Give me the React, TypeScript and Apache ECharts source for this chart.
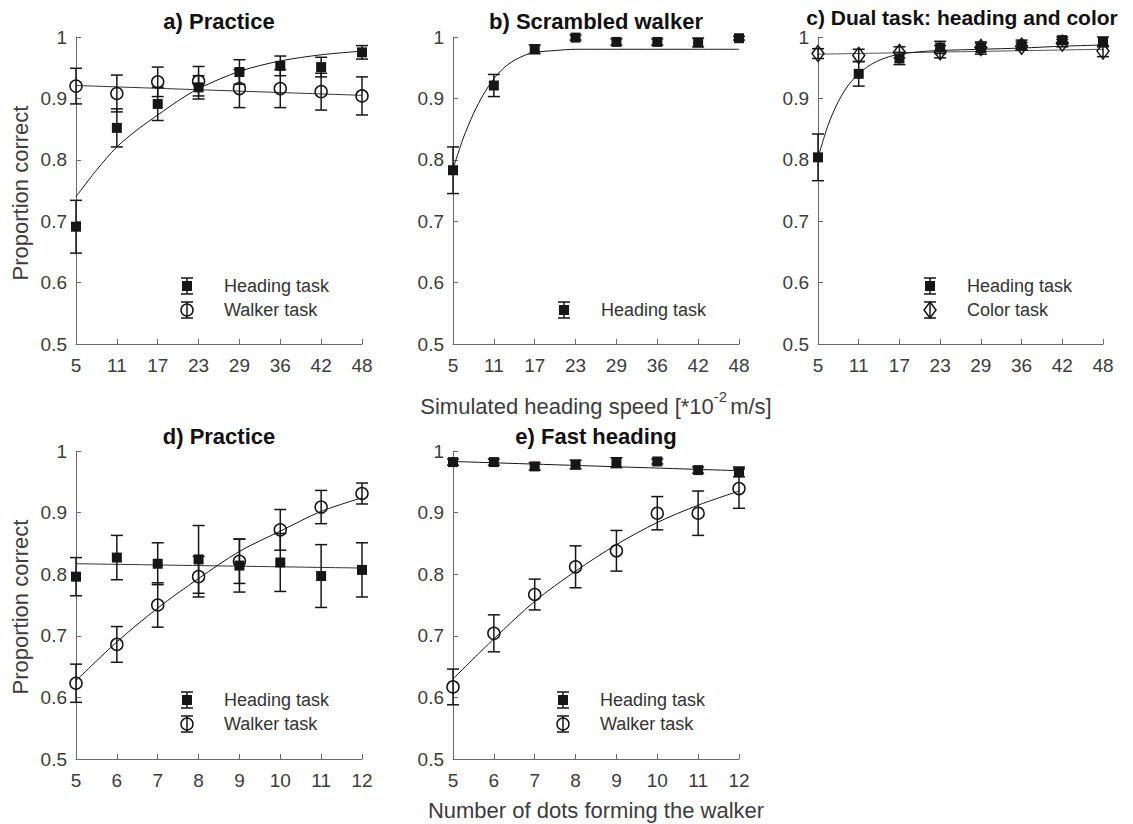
import React, { useEffect, useRef } from 'react';
import * as echarts from 'echarts';

// ---------- data ----------
const speedLabels = ['5', '11', '17', '23', '29', '36', '42', '48'];
const speedIdx = [0, 1, 2, 3, 4, 5, 6, 7];
const dotCounts = [5, 6, 7, 8, 9, 10, 11, 12];

// a) Practice (speed)
const aHeading = [0.691, 0.852, 0.891, 0.918, 0.943, 0.953, 0.951, 0.975];
const aHeadingErr = [0.043, 0.031, 0.027, 0.019, 0.020, 0.016, 0.016, 0.011];
const aWalker = [0.920, 0.908, 0.927, 0.928, 0.916, 0.916, 0.911, 0.904];
const aWalkerErr = [0.029, 0.030, 0.024, 0.024, 0.031, 0.031, 0.030, 0.031];
const aHeadingFit = [[0, 0.740], [0.5, 0.783], [1, 0.821], [1.5, 0.849], [2, 0.873], [2.5, 0.896], [3, 0.916], [4, 0.944], [5, 0.961], [6, 0.971], [7, 0.977]];
const aWalkerFit = [[0, 0.921], [7, 0.905]];

// b) Scrambled walker
const bHeading = [0.783, 0.921, 0.980, 0.999, 0.992, 0.992, 0.991, 0.998];
const bHeadingErr = [0.038, 0.018, 0.007, 0.004, 0.005, 0.005, 0.007, 0.003];
const bHeadingFit = [[0, 0.785], [0.25, 0.835], [0.5, 0.875], [0.75, 0.907], [1, 0.932], [1.25, 0.950], [1.5, 0.962], [1.75, 0.970], [2, 0.975], [2.5, 0.978], [3, 0.980], [4, 0.980], [5, 0.980], [6, 0.980], [7, 0.980]];

// c) Dual task
const cHeading = [0.804, 0.940, 0.965, 0.983, 0.982, 0.987, 0.995, 0.992];
const cHeadingErr = [0.038, 0.020, 0.010, 0.010, 0.010, 0.008, 0.005, 0.008];
const cColor = [0.973, 0.970, 0.975, 0.976, 0.983, 0.985, 0.990, 0.977];
const cColorErr = [0.008, 0.010, 0.009, 0.010, 0.007, 0.006, 0.006, 0.009];
const cHeadingFit = [[0, 0.803], [0.25, 0.857], [0.5, 0.895], [0.75, 0.922], [1, 0.940], [1.25, 0.953], [1.5, 0.962], [1.75, 0.968], [2, 0.972], [2.5, 0.976], [3, 0.978], [4, 0.980], [5, 0.982], [6, 0.985], [7, 0.987]];
const cColorFit = [[0, 0.972], [7, 0.980]];

// d) Practice (dots)
const dHeading = [0.796, 0.827, 0.817, 0.824, 0.814, 0.819, 0.797, 0.807];
const dHeadingErr = [0.031, 0.036, 0.034, 0.055, 0.043, 0.047, 0.051, 0.044];
const dWalker = [0.623, 0.686, 0.750, 0.796, 0.821, 0.872, 0.909, 0.931];
const dWalkerErr = [0.031, 0.029, 0.036, 0.033, 0.036, 0.033, 0.027, 0.017];
const dHeadingFit = [[5, 0.817], [12, 0.810]];
const dWalkerFit = [[5, 0.627], [6, 0.690], [7, 0.745], [8, 0.793], [9, 0.837], [10, 0.870], [11, 0.902], [12, 0.924]];

// e) Fast heading
const eHeading = [0.982, 0.982, 0.975, 0.978, 0.981, 0.983, 0.969, 0.966];
const eHeadingErr = [0.005, 0.005, 0.006, 0.007, 0.008, 0.004, 0.005, 0.008];
const eWalker = [0.617, 0.704, 0.767, 0.812, 0.838, 0.899, 0.899, 0.939];
const eWalkerErr = [0.029, 0.030, 0.025, 0.034, 0.033, 0.027, 0.036, 0.032];
const eHeadingFit = [[5, 0.983], [12, 0.968]];
const eWalkerFit = [[5, 0.630], [6, 0.695], [7, 0.756], [8, 0.805], [9, 0.848], [10, 0.884], [11, 0.912], [12, 0.935]];

// ---------- styling ----------
const FONT = '"Liberation Sans", Arial, Helvetica, sans-serif';
const INK = '#161616';
const AXIS = '#6a6a6a';
const LABEL = '#3c3c3c';

const grids = [
  { left: 76, top: 37, width: 286, height: 307 },
  { left: 453, top: 37, width: 286, height: 307 },
  { left: 818, top: 37, width: 285, height: 307 },
  { left: 76, top: 451, width: 286, height: 308 },
  { left: 453, top: 451, width: 286, height: 308 },
];

function xAxisFor(i: number) {
  const speed = i < 3;
  return {
    type: 'value',
    gridIndex: i,
    min: speed ? 0 : 5,
    max: speed ? 7 : 12,
    interval: 1,
    axisLine: { show: true, lineStyle: { color: AXIS, width: 1 } },
    axisTick: { show: true, inside: true, length: 5, lineStyle: { color: AXIS } },
    axisLabel: {
      color: LABEL, fontSize: 19, fontFamily: FONT, margin: 12,
      formatter: (v: number) => (speed ? speedLabels[Math.round(v)] : String(v)),
    },
    splitLine: { show: false },
  };
}

function yAxisFor(i: number) {
  return {
    type: 'value',
    gridIndex: i,
    min: 0.5,
    max: 1,
    interval: 0.1,
    axisLine: { show: true, lineStyle: { color: AXIS, width: 1 } },
    axisTick: { show: true, inside: true, length: 5, lineStyle: { color: AXIS } },
    axisLabel: {
      color: LABEL, fontSize: 19, fontFamily: FONT, margin: 9,
      formatter: (v: number) => String(Math.round(v * 10) / 10),
    },
    splitLine: { show: false },
  };
}

function fitLine(i: number, data: number[][], color = INK) {
  return {
    type: 'line', xAxisIndex: i, yAxisIndex: i, data,
    smooth: 0.3, showSymbol: false, silent: true,
    lineStyle: { color, width: 1 }, z: 1,
  };
}

function errorBars(i: number, xs: number[], ys: number[], es: number[]) {
  return {
    type: 'custom', xAxisIndex: i, yAxisIndex: i, silent: true, z: 2,
    encode: { x: 0, y: 1 },
    data: xs.map((x, k) => [x, ys[k], es[k]]),
    renderItem: (params: any, api: any) => {
      const x = api.value(0), y = api.value(1), e = api.value(2);
      const t = api.coord([x, y + e]);
      const b = api.coord([x, y - e]);
      const w = 6;
      const st = { stroke: INK, lineWidth: 1.5 };
      return {
        type: 'group',
        children: [
          { type: 'line', shape: { x1: t[0], y1: t[1], x2: b[0], y2: b[1] }, style: st },
          { type: 'line', shape: { x1: t[0] - w, y1: t[1], x2: t[0] + w, y2: t[1] }, style: st },
          { type: 'line', shape: { x1: b[0] - w, y1: b[1], x2: b[0] + w, y2: b[1] }, style: st },
        ],
      };
    },
  };
}

function markers(i: number, xs: number[], ys: number[], kind: 'square' | 'circle' | 'diamond') {
  const base: any = {
    type: 'scatter', xAxisIndex: i, yAxisIndex: i, silent: true, z: 3,
    data: xs.map((x, k) => [x, ys[k]]),
  };
  if (kind === 'square') {
    base.symbol = 'rect'; base.symbolSize = 10;
    base.itemStyle = { color: INK, opacity: 1 };
  } else if (kind === 'circle') {
    base.symbol = 'circle'; base.symbolSize = 12;
    base.itemStyle = { color: 'rgba(0,0,0,0)', borderColor: INK, borderWidth: 1.5, opacity: 1 };
  } else {
    base.symbol = 'diamond'; base.symbolSize = [12, 16];
    base.itemStyle = { color: 'rgba(0,0,0,0)', borderColor: INK, borderWidth: 1.5, opacity: 1 };
  }
  return base;
}

function legendItem(x: number, y: number, kind: 'square' | 'circle' | 'diamond', text: string) {
  const st = { stroke: INK, lineWidth: 1.5 };
  const children: any[] = [
    { type: 'line', shape: { x1: x, y1: y - 8, x2: x, y2: y + 8 }, style: st },
    { type: 'line', shape: { x1: x - 6, y1: y - 8, x2: x + 6, y2: y - 8 }, style: st },
    { type: 'line', shape: { x1: x - 6, y1: y + 8, x2: x + 6, y2: y + 8 }, style: st },
  ];
  if (kind === 'square') {
    children.push({ type: 'rect', shape: { x: x - 5, y: y - 5, width: 10, height: 10 }, style: { fill: INK } });
  } else if (kind === 'circle') {
    children.push({ type: 'circle', shape: { cx: x, cy: y, r: 6 }, style: { fill: 'none', stroke: INK, lineWidth: 1.5 } });
  } else {
    children.push({
      type: 'polygon',
      shape: { points: [[x, y - 8], [x + 6, y], [x, y + 8], [x - 6, y]] },
      style: { fill: 'none', stroke: INK, lineWidth: 1.5 },
    });
  }
  children.push({
    type: 'text', x: x + 37, y,
    style: { text, fill: '#333', fontSize: 18, fontFamily: FONT, textVerticalAlign: 'middle', textAlign: 'left' },
  });
  return { type: 'group', children, silent: true };
}

function titleText(x: number, y: number, text: string, size = 22) {
  return {
    type: 'text', x, y, silent: true,
    style: { text, fill: '#111', fontSize: size, fontWeight: 'bold', fontFamily: FONT, textAlign: 'center', textVerticalAlign: 'middle' },
  };
}

export default function App() {
  const ref = useRef<HTMLDivElement>(null);
  useEffect(() => {
    if (!ref.current) return;
    const chart = echarts.init(ref.current, undefined, { renderer: 'svg' });
    const option: any = {
      animation: false,
      backgroundColor: '#ffffff',
      grid: grids,
      xAxis: [0, 1, 2, 3, 4].map(xAxisFor),
      yAxis: [0, 1, 2, 3, 4].map(yAxisFor),
      series: [
        // a
        fitLine(0, aWalkerFit, '#333'),
        fitLine(0, aHeadingFit),
        errorBars(0, speedIdx, aWalker, aWalkerErr),
        errorBars(0, speedIdx, aHeading, aHeadingErr),
        markers(0, speedIdx, aWalker, 'circle'),
        markers(0, speedIdx, aHeading, 'square'),
        // b
        fitLine(1, bHeadingFit),
        errorBars(1, speedIdx, bHeading, bHeadingErr),
        markers(1, speedIdx, bHeading, 'square'),
        // c
        fitLine(2, cColorFit, '#555'),
        fitLine(2, cHeadingFit),
        errorBars(2, speedIdx, cColor, cColorErr),
        errorBars(2, speedIdx, cHeading, cHeadingErr),
        markers(2, speedIdx, cColor, 'diamond'),
        markers(2, speedIdx, cHeading, 'square'),
        // d
        fitLine(3, dHeadingFit, '#333'),
        fitLine(3, dWalkerFit),
        errorBars(3, dotCounts, dHeading, dHeadingErr),
        errorBars(3, dotCounts, dWalker, dWalkerErr),
        markers(3, dotCounts, dHeading, 'square'),
        markers(3, dotCounts, dWalker, 'circle'),
        // e
        fitLine(4, eHeadingFit),
        fitLine(4, eWalkerFit),
        errorBars(4, dotCounts, eHeading, eHeadingErr),
        errorBars(4, dotCounts, eWalker, eWalkerErr),
        markers(4, dotCounts, eHeading, 'square'),
        markers(4, dotCounts, eWalker, 'circle'),
      ],
      graphic: [
        titleText(219, 21, 'a) Practice'),
        titleText(596, 21, 'b) Scrambled walker'),
        titleText(962, 17, 'c) Dual task: heading and color', 21),
        titleText(219, 436, 'd) Practice'),
        titleText(596, 436, 'e) Fast heading'),
        {
          type: 'text', x: 20, y: 193, rotation: Math.PI / 2, silent: true,
          style: { text: 'Proportion correct', fill: LABEL, fontSize: 22, fontFamily: FONT, textAlign: 'center', textVerticalAlign: 'middle' },
        },
        {
          type: 'text', x: 20, y: 607, rotation: Math.PI / 2, silent: true,
          style: { text: 'Proportion correct', fill: LABEL, fontSize: 22, fontFamily: FONT, textAlign: 'center', textVerticalAlign: 'middle' },
        },
        {
          type: 'text', x: 596, y: 403, silent: true,
          style: {
            text: '{a|Simulated heading speed [*10}{s|-2}{a|m/s]}',
            textAlign: 'center', textVerticalAlign: 'middle',
            rich: {
              a: { fill: LABEL, fontSize: 22, fontFamily: FONT, verticalAlign: 'bottom', lineHeight: 28 },
              s: { fill: LABEL, fontSize: 15, fontFamily: FONT, verticalAlign: 'top', lineHeight: 28, padding: [0, 3, 0, 0] },
            },
          },
        },
        {
          type: 'text', x: 596, y: 810, silent: true,
          style: { text: 'Number of dots forming the walker', fill: LABEL, fontSize: 22, fontFamily: FONT, textAlign: 'center', textVerticalAlign: 'middle' },
        },
        legendItem(187, 286, 'square', 'Heading task'),
        legendItem(187, 310, 'circle', 'Walker task'),
        legendItem(564, 310, 'square', 'Heading task'),
        legendItem(930, 286, 'square', 'Heading task'),
        legendItem(930, 310, 'diamond', 'Color task'),
        legendItem(187, 700, 'square', 'Heading task'),
        legendItem(187, 724, 'circle', 'Walker task'),
        legendItem(563, 700, 'square', 'Heading task'),
        legendItem(563, 724, 'circle', 'Walker task'),
      ],
    };
    chart.setOption(option);
    return () => chart.dispose();
  }, []);
  return <div ref={ref} style={{ position: 'fixed', left: 0, top: 0, width: 1133, height: 824 }} />;
}
